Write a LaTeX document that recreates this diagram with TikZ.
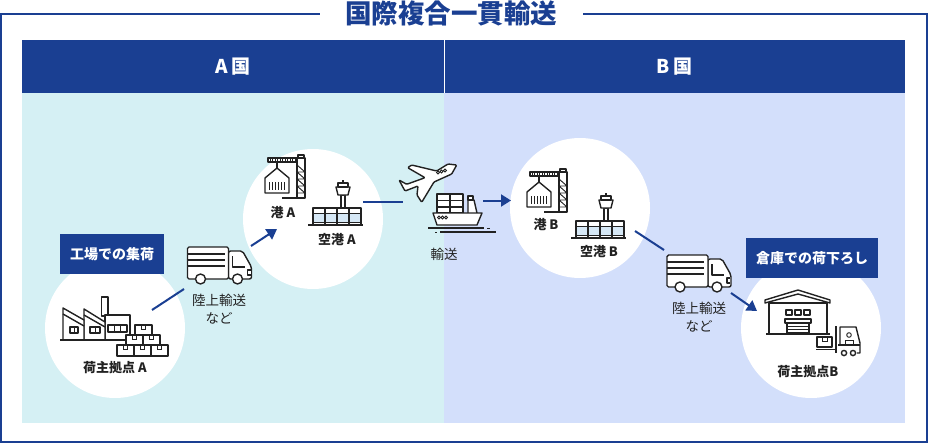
\documentclass[tikz,border=0pt]{standalone}
\usepackage{fontspec}
\setmainfont{Noto Sans CJK JP}
\usetikzlibrary{arrows.meta}
\definecolor{navy}{HTML}{1A3F92}
\definecolor{inkblack}{HTML}{222222}
\definecolor{mint}{HTML}{D5F0F4}
\definecolor{periwinkle}{HTML}{D3DFFB}
\definecolor{glass}{HTML}{D6E8F6}
\tikzset{
  icon/.style={draw=inkblack, line width=1.4pt, line join=round, fill=white},
  thin icon/.style={draw=inkblack, line width=.9pt},
  truck/.pic={
    \draw[icon, rounded corners=2pt] (41,4) -- (55,4) -- (64,20) -- (64,32) -- (41,32) -- cycle;
    \draw[icon, rounded corners=1.5pt] (0,0) -- (41,0) -- (41,32) -- (0,32) -- cycle;
    \draw[icon] (45,9) -- (45,20) -- (57,20);
    \draw[icon] (63,23) -- (60,23) -- (60,28) -- (63,28);
    \foreach \y in {7,13,19} \draw[icon] (0,\y) -- (37,\y);
    \draw[icon] (13,32) circle (5);
    \draw[icon] (50,32) circle (5);
  },
  crane/.pic={
    \draw[icon] (3,3) rectangle (38,7);
    \foreach \x in {5,7.5,...,30} \draw[thin icon] (\x,3) -- (\x,7);
    \draw[icon] (33,0) rectangle (39,3);
    \draw[icon] (32,3) rectangle (40,43);
    \draw[thin icon] (32,10) -- (40,17) -- (32,17) -- (40,24) -- (32,24) -- (40,31) -- (32,31) -- (40,38) -- (32,38);
    \draw[icon] (17,43) -- (40,43);
    \draw[icon] (12,7) -- (12,13);
    \draw[icon] (0,23) -- (12,13) -- (24,23) -- (24,38) -- (0,38) -- cycle;
    \foreach \x in {4,7,...,20} \draw[thin icon] (\x,27) -- (\x,35);
  },
  airport/.pic={
    \fill[glass] (5,-12) rectangle (53,-3);
    \draw[icon] (33,-17) rectangle (37,-30);
    \draw[icon] (28,-38) -- (42,-38) -- (40,-30) -- (30,-30) -- cycle;
    \draw[icon] (30,-42) rectangle (40,-38);
    \draw[icon] (35,-45) -- (35,-42);
    \draw[icon, fill=none] (5,-17) rectangle (53,0);
    \draw[thin icon] (5,-12) -- (53,-12);
    \draw[thin icon] (5,-3) -- (53,-3);
    \foreach \x in {17,29,41} \draw[icon] (\x,-17) -- (\x,0);
    \draw[icon] (0,0) -- (55,0);
  },
  carton/.pic={
    \draw[icon] (0,0) rectangle (17,11);
    \draw[thin icon] (6,0) -- (6,4) -- (10,4) -- (10,0);
  },
}
\begin{document}
\begin{tikzpicture}[x=1pt, y=-1pt,
    banner/.style={fill=navy, text=white, font=\bfseries\fontsize{19}{19}\selectfont, minimum height=53pt, inner sep=0pt},
    spot/.style={circle, fill=white, minimum size=140pt, inner sep=0pt},
    tag/.style={fill=navy, text=white, font=\bfseries\fontsize{14}{14}\selectfont, minimum height=40pt, inner sep=0pt},
    place/.style={text=inkblack, inner sep=0pt, font=\bfseries\fontsize{13}{13}\selectfont},
    mode/.style={text=inkblack, inner sep=0pt, align=center, font=\fontsize{13.5}{17.5}\selectfont},
    link/.style={draw=navy, line width=2pt},
    flow/.style={link, -{Triangle[length=10pt, width=12pt]}}]
    \useasboundingbox (0,0) rectangle (929,444);

    \draw[navy, line width=2pt] (1,14) rectangle (927,442);
    \node[fill=white, minimum width=263pt, minimum height=26pt, inner sep=0pt, text=navy, font=\bfseries\fontsize{26.5}{26.5}\selectfont] (title) at (451,13) {国際複合一貫輸送};

    \fill[mint] (22,93) rectangle (444,423);
    \fill[periwinkle] (444,93) rectangle (905,423);
    \node[banner, minimum width=422pt] (countryA) at (233,66.5) {A 国};
    \node[banner, minimum width=461pt] (countryB) at (674.5,66.5) {B 国};
    \draw[white, line width=.6pt] (countryA.north east) -- (countryA.south east);

    \node[spot] (baseA) at (115,328) {};
    \node[spot] (portA) at (313,219) {};
    \node[spot] (portB) at (580,208) {};
    \node[spot] (baseB) at (811,328) {};

    \node[tag, minimum width=104pt] (pickup) at (112,254) {工場での集荷};
    \node[tag, minimum width=132pt] (unload) at (812,258) {倉庫での荷下ろし};

    \node[place] (labelbaseA) at (115,368) {荷主拠点 A};
    \node[place] (labelportA) at (283,213) {港 A};
    \node[place] (labelairA) at (337,240) {空港 A};
    \node[place] (labelportB) at (546,225) {港 B};
    \node[place] (labelairB) at (599,252) {空港 B};
    \node[place] (labelbaseB) at (808,372) {荷主拠点B};
    \node[mode] (labeltruckA) at (219,309) {陸上輸送\\など};
    \node[mode] (labeltruckB) at (699,317) {陸上輸送\\など};
    \node[mode] (labelsea) at (444,254) {輸送};

    \pic at (187.5,247) {truck};
    \pic at (667,255) {truck};
    \pic at (265,155) {crane};
    \pic at (527,169) {crane};
    \pic at (308,225) {airport};
    \pic at (571,238) {airport};

    % factory
    \draw[icon] (101.5,297) rectangle (108,316);
    \draw[icon] (105,315) rectangle (130,340);
    \draw[icon] (108,325) rectangle (127,332);
    \foreach \x in {114,120} \draw[thin icon] (\x,325) -- (\x,332);
    \draw[icon] (84,340) -- (84,309) -- (105,322) -- (105,340);
    \draw[icon] (84,315) -- (105,327);
    \draw[icon] (63,340) -- (63,308) -- (84,320) -- (84,340);
    \draw[icon] (63,314) -- (84,326);
    \draw[icon] (70,327) rectangle (78,333);
    \draw[thin icon] (74,327) -- (74,333);
    \draw[icon] (90,327) rectangle (100,333);
    \draw[thin icon] (95,327) -- (95,333);
    \draw[icon] (60,340) -- (122,340);
    \pic at (135,325) {carton};
    \pic at (126,335) {carton};
    \pic at (143,335) {carton};
    \pic at (117,345) {carton};
    \pic at (134,345) {carton};
    \pic at (151,345) {carton};

    % plane and ship
    \draw[icon, rounded corners=1pt] (456.7,165) -- (448,164) -- (436.7,171) -- (411.7,165) -- (407.7,167.7) -- (425,177.7) -- (406.7,184.3) -- (399,180) -- (405,191) -- (418,186) -- (417,195) -- (421.7,202.3) -- (434,182) -- (451.7,174) -- cycle;
    \foreach \x/\y in {438/172.5,441.5/171.5,445/170.5} \draw[thin icon] (\x,\y) circle (1.6);
    \draw[icon] (437,194) rectangle (463,213);
    \draw[icon] (437,200.5) -- (463,200.5);
    \draw[icon] (437,207) -- (463,207);
    \draw[icon] (450,194) -- (450,213);
    \draw[icon] (468,213) -- (468,200) -- (474,200) -- (477,213);
    \draw[icon] (468,196) rectangle (473,200);
    \draw[icon] (433,213) -- (482,213) -- (477,225) -- (437,225) -- cycle;
    \foreach \x in {439,442.5,446} \draw[thin icon] (\x,217.5) circle (1.5);
    \draw[icon] (428,228) -- (484,228);
    \draw[icon] (440,232) -- (496,232);
    \draw[thin icon] (487,228) -- (490,228);
    \draw[thin icon] (435,232) -- (437,232);

    % warehouse and forklift
    \draw[icon] (769,303) rectangle (827,334);
    \draw[icon] (765,303) -- (765,300) -- (798,290) -- (830,300) -- (830,303) -- (798,294) -- cycle;
    \draw[icon] (786,310) rectangle (792,315);
    \draw[icon] (795,310) rectangle (801,315);
    \draw[icon] (804,310) rectangle (810,315);
    \draw[icon] (785,319) rectangle (811,323);
    \draw[icon] (787,323) rectangle (809,334);
    \foreach \y in {326,329,332} \draw[thin icon] (787,\y) -- (809,\y);
    \draw[icon] (766,334) -- (830,334);
    \draw[icon] (817,337) rectangle (832,347);
    \draw[thin icon] (822,337) -- (822,341) -- (827,341) -- (827,337);
    \draw[icon] (816,349.5) -- (836,349.5);
    \draw[icon] (836,326) -- (836,353);
    \draw[icon, fill=none] (840,345) -- (840,327) -- (856,327) -- (860,343) -- (860,353) -- (857,353);
    \draw[icon, fill=none] (838,345) -- (860,345);
    \draw[thin icon] (849,335) circle (2.3);
    \draw[thin icon] (845,345) -- (845,340) -- (853,340) -- (853,345);
    \draw[icon] (844,353) circle (2.6);
    \draw[icon] (853,353) circle (2.6);

    \coordinate (truckAin) at (184,289);
    \coordinate (baseAout) at (152,310);
    \coordinate (truckAout) at (251,246);
    \coordinate (portAin) at (277,229);
    \coordinate (airAout) at (363,202);
    \coordinate (planein) at (403,202);
    \coordinate (shipout) at (483,200.5);
    \coordinate (portBin) at (511,200.5);
    \coordinate (airBout) at (635,231);
    \coordinate (truckBin) at (664,250);
    \coordinate (truckBout) at (731,293);
    \coordinate (baseBin) at (757,311);
    \draw[link] (baseAout) -- (truckAin);
    \draw[flow] (truckAout) -- (portAin);
    \draw[link] (airAout) -- (planein);
    \draw[flow] (shipout) -- (portBin);
    \draw[link] (airBout) -- (truckBin);
    \draw[flow] (truckBout) -- (baseBin);
\end{tikzpicture}
\end{document}
